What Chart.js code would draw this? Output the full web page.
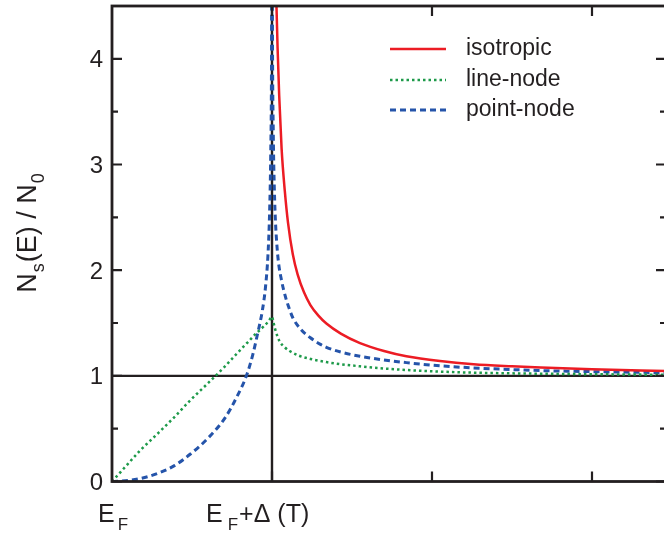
<!DOCTYPE html>
<html>
<head>
<meta charset="utf-8">
<script src="https://cdn.jsdelivr.net/npm/chart.js@4"></script>
<style>
    html, body { margin: 0; padding: 0; background: #fff; overflow: hidden; }
    #wrap { width: 664px; height: 534px; overflow: hidden; }
</style>
</head>
<body>
<div id="wrap"><canvas id="dosChart" width="672" height="534"></canvas></div>
<script>
// energies in units of gap (0 = E_F, 1 = E_F + Delta), DOS in units of N0
const isoE = [1.02, 1.028, 1.035, 1.045, 1.06, 1.08, 1.1, 1.13, 1.16, 1.2, 1.24, 1.29, 1.34, 1.43, 1.55, 1.7, 1.84, 2.05, 2.26, 2.5, 2.68, 3.0, 3.46];
const isoN = [5.0, 4.5, 4.1, 3.65, 3.15, 2.75, 2.45, 2.15, 1.96, 1.79, 1.67, 1.57, 1.495, 1.4, 1.31, 1.235, 1.185, 1.14, 1.11, 1.09, 1.078, 1.062, 1.045];

const lineE = [0, 0.06, 0.18, 0.29, 0.39, 0.49, 0.6, 0.7, 0.78, 0.85, 0.9, 0.95, 0.98, 1.0, 1.01, 1.02, 1.035, 1.05, 1.08, 1.11, 1.17, 1.24, 1.34, 1.43, 1.55, 1.63, 1.84, 2.05, 2.26, 2.68, 3.46];
const lineN = [0, 0.1, 0.3, 0.46, 0.61, 0.77, 0.93, 1.08, 1.21, 1.32, 1.4, 1.47, 1.52, 1.56, 1.5, 1.44, 1.37, 1.32, 1.27, 1.235, 1.19, 1.16, 1.13, 1.11, 1.09, 1.078, 1.055, 1.04, 1.03, 1.02, 1.01];

const pointE = [0, 0.1, 0.21, 0.29, 0.39, 0.49, 0.6, 0.71, 0.78, 0.84, 0.88, 0.91, 0.94, 0.96, 0.975, 0.985, 0.992, 0.997, 1.0, 1.003, 1.008, 1.015, 1.022, 1.03, 1.04, 1.06, 1.08, 1.1, 1.13, 1.18, 1.24, 1.3, 1.34, 1.43, 1.55, 1.63, 1.84, 2.05, 2.26, 2.68, 3.0, 3.46];
const pointN = [0, 0.01, 0.04, 0.08, 0.15, 0.26, 0.41, 0.61, 0.8, 1.0, 1.2, 1.4, 1.62, 1.85, 2.15, 2.55, 3.1, 4.0, 6.0, 4.2, 3.3, 2.75, 2.45, 2.25, 2.08, 1.9, 1.77, 1.67, 1.55, 1.44, 1.36, 1.3, 1.27, 1.225, 1.185, 1.165, 1.125, 1.095, 1.075, 1.05, 1.04, 1.03];

const seriesNames = ['isotropic', 'line-node', 'point-node'];
const yTicks = [0, 1, 2, 3, 4];
const yMinorTicks = [0.5, 1.5, 2.5, 3.5];
const xTicks = [1, 2, 3];

const FONT = '"Liberation Sans", Arial, sans-serif';
const INK = '#231f20';

function toPoints(xs, ys) {
    return xs.map((x, i) => ({ x: x, y: ys[i] }));
}

// text with subscript parts: [[text, isSub, gapBefore], ...]
function drawParts(ctx, parts, x, y, size, subSize, subDrop) {
    let cx = x;
    parts.forEach((p) => {
        cx += p[2] || 0;
        ctx.font = (p[1] ? subSize : size) + 'px ' + FONT;
        ctx.fillText(p[0], cx, p[1] ? y + subDrop : y);
        cx += ctx.measureText(p[0]).width;
    });
    return cx - x;
}
function partsWidth(ctx, parts, size, subSize) {
    let w = 0;
    parts.forEach((p) => {
        ctx.font = (p[1] ? subSize : size) + 'px ' + FONT;
        w += ctx.measureText(p[0]).width + (p[2] || 0);
    });
    return w;
}

const framePlugin = {
    id: 'frame',
    beforeDatasetsDraw(chart) {
        const ctx = chart.ctx;
        const a = chart.chartArea;
        const xs = chart.scales.x, ys = chart.scales.y;
        ctx.save();
        ctx.strokeStyle = INK;
        ctx.lineWidth = 2.4;
        // reference lines at N = N0 and E = E_F + Delta
        const y1 = ys.getPixelForValue(1);
        const x1 = xs.getPixelForValue(1);
        ctx.beginPath();
        ctx.moveTo(a.left, y1); ctx.lineTo(a.right, y1);
        ctx.moveTo(x1, a.top); ctx.lineTo(x1, a.bottom);
        ctx.stroke();
        ctx.restore();
    },
    afterDatasetsDraw(chart) {
        const ctx = chart.ctx;
        const a = chart.chartArea;
        const xs = chart.scales.x, ys = chart.scales.y;
        ctx.save();
        ctx.strokeStyle = INK;
        ctx.lineWidth = 2.8;
        ctx.strokeRect(a.left, a.top, a.right - a.left, a.bottom - a.top);

        // inward ticks
        ctx.lineWidth = 2.2;
        ctx.beginPath();
        yTicks.forEach((v) => {
            const py = ys.getPixelForValue(v);
            ctx.moveTo(a.left, py); ctx.lineTo(a.left + 10, py);
            ctx.moveTo(a.right, py); ctx.lineTo(a.right - 10, py);
        });
        yMinorTicks.forEach((v) => {
            const py = ys.getPixelForValue(v);
            ctx.moveTo(a.left, py); ctx.lineTo(a.left + 6, py);
            ctx.moveTo(a.right, py); ctx.lineTo(a.right - 6, py);
        });
        xTicks.forEach((v) => {
            const px = xs.getPixelForValue(v);
            ctx.moveTo(px, a.bottom); ctx.lineTo(px, a.bottom - 10);
            ctx.moveTo(px, a.top); ctx.lineTo(px, a.top + 10);
        });
        ctx.stroke();

        // y tick labels
        ctx.fillStyle = INK;
        ctx.font = '24px ' + FONT;
        ctx.textAlign = 'right';
        ctx.textBaseline = 'alphabetic';
        yTicks.forEach((v) => {
            ctx.fillText(String(v), 103, ys.getPixelForValue(v) + 8.5);
        });

        // x labels
        ctx.textAlign = 'left';
        drawParts(ctx, [['E', false], ['F', true, 3]], 98, 522, 25, 17, 8);
        drawParts(ctx, [['E', false], ['F', true, 5], ['+\u0394 (T)', false, 1]], 206, 522, 25, 17, 8);

        // y axis title, rotated
        const title = [['N', false], ['s', true, 1], ['(E) / N', false, 1], ['0', true, 1]];
        const tw = partsWidth(ctx, title, 27, 18);
        ctx.save();
        ctx.translate(36, 233);
        ctx.rotate(-Math.PI / 2);
        drawParts(ctx, title, -tw / 2, 0, 27, 18, 8);
        ctx.restore();

        // legend
        const legendY = [49, 80, 110];
        chart.data.datasets.forEach((ds, i) => {
            ctx.strokeStyle = ds.borderColor;
            ctx.lineWidth = ds.borderWidth;
            ctx.setLineDash(ds.borderDash || []);
            ctx.beginPath();
            ctx.moveTo(390, legendY[i]); ctx.lineTo(446, legendY[i]);
            ctx.stroke();
            ctx.setLineDash([]);
            ctx.fillStyle = INK;
            ctx.font = '23px ' + FONT;
            ctx.textBaseline = 'middle';
            ctx.fillText(ds.label, 466, legendY[i]);
        });
        ctx.restore();
    }
};

const ctx1 = document.getElementById('dosChart');

new Chart(ctx1, {
    type: 'scatter',
    data: {
        datasets: [{
            label: seriesNames[0],
            data: toPoints(isoE, isoN),
            showLine: true,
            borderColor: '#ec1c24',
            borderWidth: 2.5,
            pointRadius: 0,
            cubicInterpolationMode: 'monotone'
        }, {
            label: seriesNames[1],
            data: toPoints(lineE, lineN),
            showLine: true,
            borderColor: '#1e9a4a',
            borderWidth: 2.5,
            borderDash: [2.5, 3],
            pointRadius: 0,
            cubicInterpolationMode: 'monotone'
        }, {
            label: seriesNames[2],
            data: toPoints(pointE, pointN),
            showLine: true,
            borderColor: '#2554aa',
            borderWidth: 3,
            borderDash: [6, 4],
            pointRadius: 0,
            cubicInterpolationMode: 'monotone'
        }]
    },
    options: {
        responsive: false,
        animation: false,
        devicePixelRatio: 1,
        layout: {
            padding: { left: 112, top: 6, right: 6, bottom: 52.5 }
        },
        scales: {
            x: { type: 'linear', display: false, min: 0, max: 3.4625 },
            y: { type: 'linear', display: false, min: 0, max: 4.5 }
        },
        plugins: {
            legend: { display: false },
            tooltip: { enabled: false }
        }
    },
    plugins: [framePlugin]
});
</script>
</body>
</html>
